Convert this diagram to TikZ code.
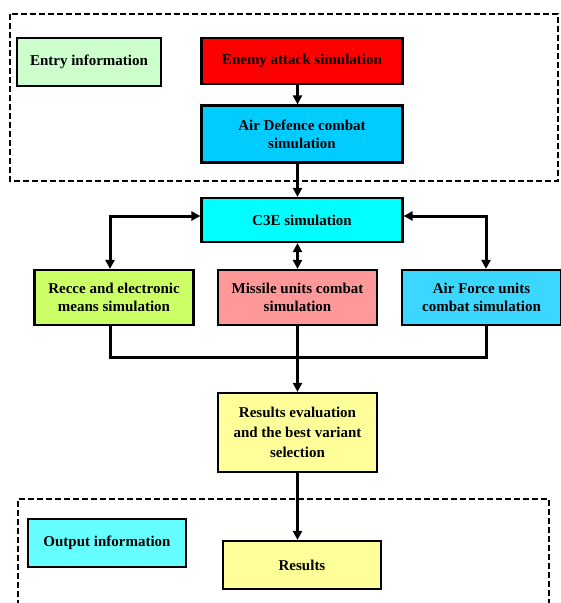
\documentclass[tikz,border=0pt]{standalone}
\usepackage{fontspec}
\setmainfont{Liberation Serif}
\usetikzlibrary{arrows.meta}

\definecolor{entrygreen}{HTML}{CCFFCC}
\definecolor{enemyred}{HTML}{FF0000}
\definecolor{adblue}{HTML}{00CCFF}
\definecolor{ccecyan}{HTML}{00FFFF}
\definecolor{reccegreen}{HTML}{CCFF66}
\definecolor{missilepink}{HTML}{FF9999}
\definecolor{afblue}{HTML}{3CD7FF}
\definecolor{paleyellow}{HTML}{FFFF99}
\definecolor{outcyan}{HTML}{66FFFF}

\tikzset{
  box/.style={draw=black, line width=2.2pt, inner sep=0pt, align=center,
    font=\fontsize{15}{18}\selectfont\bfseries},
  link/.style={line width=3pt, draw=black},
  tip/.tip={Triangle[length=9pt,width=9pt]},
  arr/.style={link, -tip},
  biarr/.style={link, tip-tip},
  group/.style={line width=2.2pt, dash pattern=on 6pt off 3pt},
}

\begin{document}
\begin{tikzpicture}[x=1pt, y=-1pt]
\useasboundingbox (0,0) rectangle (561,603);

% dashed frames around the input and output stages
\draw[group] (10,14) rectangle (558,181);
\draw[group] (18,615) -- (18,499) -- (549,499) -- (549,615);

% main column axis
\coordinate (axis) at (297.5,0);

% input stage
\node[box, fill=entrygreen, minimum width=144pt, minimum height=48pt] (entry) at (89,62) {Entry information};
\node[box, fill=enemyred, minimum width=201pt, minimum height=46pt] (enemy) at (302,61) {Enemy attack simulation};
\node[box, fill=adblue, minimum width=201pt, minimum height=57pt] (airdef) at (302,134) {Air Defence combat\\simulation};

% command and control
\node[box, fill=ccecyan, minimum width=201pt, minimum height=44pt] (c3e) at (302,220) {C3E simulation};

% component simulations
\node[box, fill=reccegreen, minimum width=159pt, minimum height=55pt] (recce) at (114,297.5) {Recce and electronic\\means simulation};
\node[box, fill=missilepink, minimum width=159pt, minimum height=55pt] (missile) at (297.5,297.5) {Missile units combat\\simulation};
\node[box, fill=afblue, minimum width=159pt, minimum height=55pt] (airforce) at (481.5,297.5) {Air Force units\\combat simulation};

% evaluation
\node[box, fill=paleyellow, minimum width=159pt, minimum height=79pt,
  font=\fontsize{15}{20}\selectfont\bfseries] (eval) at (297.5,432.5) {Results evaluation\\and the best variant\\selection};

% output stage
\node[box, fill=outcyan, minimum width=158pt, minimum height=48pt] (output) at (107,543) {Output information};
\node[box, fill=paleyellow, minimum width=158pt, minimum height=48pt] (results) at (302,565) {Results};

\coordinate (join) at (297.5,357);

% connectors
\draw[arr] (enemy.south -| axis) -- (airdef.north -| axis);
\draw[arr] (airdef.south -| axis) -- (c3e.north -| axis);
\draw[biarr] (c3e.south -| axis) -- (missile.north);
\draw[biarr] ([xshift=-4pt]recce.north) |- ([yshift=4pt]c3e.west);
\draw[biarr] ([yshift=4pt]c3e.east) -| ([xshift=4.5pt]airforce.north);

\draw[link] ([xshift=-4pt]recce.south) |- (join) -| ([xshift=4.5pt]airforce.south);
\draw[arr] (missile.south) -- (eval.north);
\draw[arr] (eval.south) -- (results.north -| axis);
\end{tikzpicture}
\end{document}
